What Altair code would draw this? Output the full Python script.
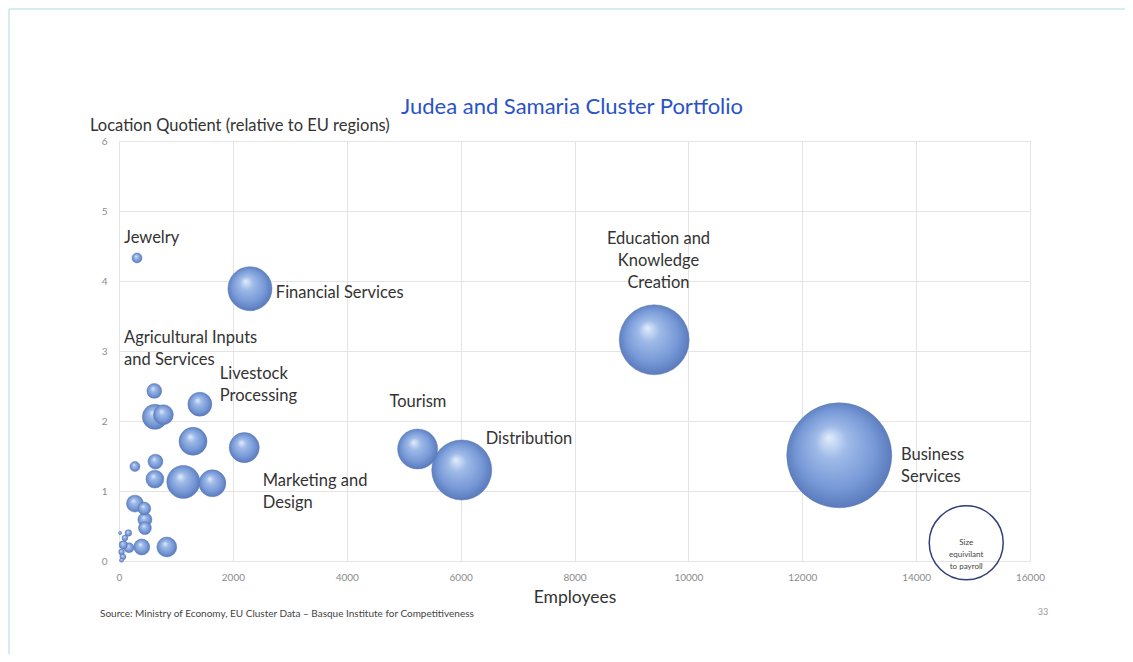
import altair as alt
import pandas as pd

# ---- data ----
employees = [316, 2300, 9400, 12650, 5245, 6020, 2200, 620, 1420, 630, 780, 1300,
             280, 640, 630, 1130, 1640, 280, 445, 455, 455, 400, 840, 165, 105,
             75, 175, 45, 70, 20, 45]
location_quotient = [4.33, 3.89, 3.16, 1.51, 1.60, 1.30, 1.62, 2.43, 2.24, 2.06, 2.09, 1.71,
                     1.35, 1.42, 1.17, 1.13, 1.11, 0.82, 0.75, 0.59, 0.47, 0.20, 0.20, 0.40, 0.33,
                     0.23, 0.19, 0.13, 0.06, 0.40, 0.01]
payroll = [0.9, 17.6, 44.4, 100, 14.5, 32.7, 8.2, 2.0, 5.2, 5.7, 3.6, 7.1,
           0.9, 2.0, 2.9, 9.9, 6.6, 2.6, 1.5, 1.8, 1.5, 2.3, 3.6, 0.4, 0.3,
           0.6, 0.9, 0.3, 0.3, 0.1, 0.15]

label_text = ["Jewelry", "Financial Services", "Education and\nKnowledge\nCreation",
              "Agricultural Inputs\nand Services", "Livestock\nProcessing", "Tourism",
              "Distribution", "Marketing and\nDesign", "Business\nServices"]
label_x = [88, 2755, 9475, 88, 1770, 4750, 6440, 2525, 13735]
label_y = [4.61, 3.83, 4.61, 3.19, 2.67, 2.27, 1.74, 1.14, 1.51]
label_align = ["left", "left", "center", "left", "left", "left", "left", "left", "left"]

x_ticks = [0, 2000, 4000, 6000, 8000, 10000, 12000, 14000, 16000]
y_ticks = [0, 1, 2, 3, 4, 5, 6]

size_note = ["Size\nequivilant\nto payroll"]
size_note_x = [14880]
size_note_y = [0.26]

W, H = 911, 420
FONT = "Lato"

bubbles = pd.DataFrame({"Employees": employees, "LQ": location_quotient, "Payroll": payroll})
bubbles = bubbles.sort_values("Payroll", ascending=False).reset_index(drop=True)
bubbles["order"] = range(len(bubbles))

labels = pd.DataFrame({"text": label_text, "x": label_x, "y": label_y, "align": label_align})
labels["lines"] = labels["text"].str.split("\n")
note = pd.DataFrame({"x": size_note_x, "y": size_note_y, "text": size_note})
note["lines"] = note["text"].str.split("\n")

xscale = alt.Scale(domain=[0, 16000], nice=False)
yscale = alt.Scale(domain=[0, 6], nice=False)

sphere = alt.RadialGradient(
    gradient="radial",
    x1=0.4, y1=0.33, r1=0.0,
    x2=0.5, y2=0.5, r2=0.55,
    stops=[
        alt.GradientStop(offset=0.0, color="#e2edfb"),
        alt.GradientStop(offset=0.28, color="#9fbae8"),
        alt.GradientStop(offset=0.68, color="#7698d6"),
        alt.GradientStop(offset=1.0, color="#5372b4"),
    ],
)

base = alt.Chart(bubbles)

points = base.mark_circle(fill=sphere, opacity=1, stroke="#5a78b8", strokeWidth=0.5).encode(
    x=alt.X("Employees:Q", scale=xscale,
            axis=alt.Axis(values=x_ticks, format="d", title="Employees", grid=True,
                          gridColor="#e4e4e4", domain=False, ticks=False, labelColor="#8c8c8c",
                          labelFontSize=10, labelPadding=11, labelFont=FONT, titleFont=FONT,
                          titleFontSize=17.5, titleFontWeight="normal", titleColor="#333333",
                          titlePadding=6, labelFlush=False)),
    y=alt.Y("LQ:Q", scale=yscale,
            axis=alt.Axis(values=y_ticks, format="d", title=None, grid=True, gridColor="#e4e4e4",
                          domain=False, ticks=False, labelColor="#8c8c8c", labelFontSize=10,
                          labelPadding=12, labelFont=FONT, labelFlush=False)),
    size=alt.Size("Payroll:Q", scale=alt.Scale(domain=[0, 100], range=[0, 11025], zero=True),
                  legend=None),
    order=alt.Order("order:Q"),
)

text_left = alt.Chart(labels).transform_filter(alt.datum.align == "left").mark_text(
    align="left", baseline="middle", font=FONT, fontSize=16.5, color="#333333", lineHeight=22
).encode(x=alt.X("x:Q", scale=xscale), y=alt.Y("y:Q", scale=yscale), text="lines")

text_center = alt.Chart(labels).transform_filter(alt.datum.align == "center").mark_text(
    align="center", baseline="top", font=FONT, fontSize=16.5, color="#333333", lineHeight=22, dy=-7
).encode(x=alt.X("x:Q", scale=xscale), y=alt.Y("y:Q", scale=yscale), text="lines")

note_circle = alt.Chart(note).mark_point(
    shape="circle", size=5476, filled=False, stroke="#2f3f78", strokeWidth=1.5, opacity=1
).encode(x=alt.X("x:Q", scale=xscale), y=alt.Y("y:Q", scale=yscale))

note_text = alt.Chart(note).mark_text(
    align="center", baseline="middle", font=FONT, fontSize=8, color="#444444", lineHeight=12
).encode(x=alt.X("x:Q", scale=xscale), y=alt.Y("y:Q", scale=yscale), text="lines")

# page decorations (text/frame positioned in pixels relative to plot origin)
deco = pd.DataFrame({"k": [0]})
title = alt.Chart(deco).mark_text(
    align="center", baseline="middle", font=FONT, fontSize=22, color="#2a52c9"
).encode(x=alt.value(453), y=alt.value(-34), text=alt.value("Judea and Samaria Cluster Portfolio"))

y_title = alt.Chart(deco).mark_text(
    align="left", baseline="middle", font=FONT, fontSize=16.5, color="#333333"
).encode(x=alt.value(-29), y=alt.value(-15), text=alt.value("Location Quotient (relative to EU regions)"))

source = alt.Chart(deco).mark_text(
    align="left", baseline="middle", font=FONT, fontSize=10, color="#444444"
).encode(x=alt.value(-19), y=alt.value(473),
         text=alt.value("Source: Ministry of Economy, EU Cluster Data \u2013 Basque Institute for Competitiveness"))

page_no = alt.Chart(deco).mark_text(
    align="center", baseline="middle", font=FONT, fontSize=9, color="#999999"
).encode(x=alt.value(924), y=alt.value(471), text=alt.value("33"))

frame_top = alt.Chart(deco).mark_rule(color="#d4ecf2", strokeWidth=2).encode(
    x=alt.value(-110), x2=alt.value(1010), y=alt.value(-132))
frame_left = alt.Chart(deco).mark_rule(color="#d4ecf2", strokeWidth=2).encode(
    x=alt.value(-110), y=alt.value(-132), y2=alt.value(520))

chart = alt.layer(
    frame_top, frame_left, points, text_left, text_center, note_circle, note_text,
    title, y_title, source, page_no
).properties(
    width=W, height=H,
    autosize=alt.AutoSizeParams(type="none"),
    padding={"left": 111, "top": 133, "right": 95, "bottom": 93},
).configure_view(stroke=None).configure(background="white")

chart.save("out.html", embed_options={"renderer": "svg", "actions": False})
